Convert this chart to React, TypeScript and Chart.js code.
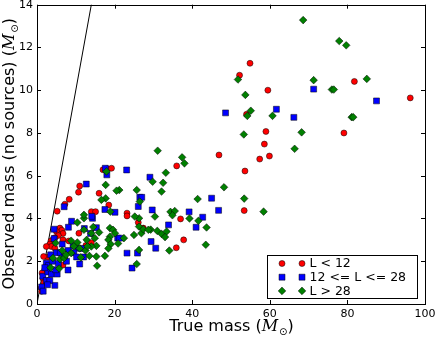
import React, { useEffect, useRef } from 'react';
import { Chart, registerables } from 'chart.js';
Chart.register(...registerables);

const redPoints: number[][] = [
  [52.2,10.7],[54.9,11.26],[59.5,10.0],[81.8,10.41],[96.2,9.64],[54.0,8.87],[59.0,8.07],[79.1,8.0],[58.6,7.48],[59.9,6.92],[57.4,6.78],[46.9,6.97],[53.6,6.22],[53.4,4.37],[36.0,6.46],[37.0,3.98],[37.8,3.0],[35.9,2.63],[17.0,6.28],[18.1,6.33],[19.2,6.35],[16.0,5.18],[18.5,4.63],[14.0,4.32],[15.1,4.32],[23.2,4.25],[23.2,4.12],[26.1,3.81],[27.4,3.55],[14.0,2.87],[12.6,2.74],[10.8,3.31],[11.0,5.52],[10.7,5.23],[8.3,4.9],[7.2,4.67],[5.2,4.34],[5.9,3.55],[6.4,3.45],[5.0,3.39],[6.7,3.3],[5.5,3.2],[4.6,3.1],[4.1,3.0],[3.6,2.95],[6.7,3.0],[3.3,2.8],[3.7,2.69],[4.6,2.61],[2.4,2.69],[8.2,2.95],[2.8,2.2],[1.7,2.22],[6.7,1.83],[2.0,1.6],[1.3,1.45],[1.5,1.21],[1.8,1.0],[1.1,0.75],[1.2,0.6],
];
const bluePoints: number[][] = [
  [71.3,10.05],[87.5,9.5],[48.6,8.94],[61.7,9.11],[66.2,8.73],[45.0,4.95],[46.8,4.38],[42.7,4.06],[41.0,3.59],[39.2,4.31],[33.9,3.7],[23.1,6.27],[29.1,5.93],[29.7,4.4],[29.4,2.92],[30.6,2.61],[26.5,4.99],[27.0,4.99],[26.1,4.56],[23.2,2.38],[25.9,2.38],[24.5,1.68],[20.1,4.29],[20.8,3.08],[21.3,3.08],[17.6,6.35],[18.0,6.04],[17.5,4.42],[12.7,5.61],[14.3,4.01],[14.1,4.1],[15.3,3.57],[12.2,3.53],[13.8,3.3],[7.0,4.55],[8.1,3.59],[8.9,3.87],[4.4,3.5],[4.4,3.06],[4.6,0.87],[11.0,1.87],[8.0,1.59],[9.3,2.72],[10.6,2.61],[11.5,2.6],[2.4,1.91],[1.5,1.3],[2.8,1.5],[2.4,1.1],[3.3,1.1],[3.7,1.4],[5.2,1.4],[3.0,1.8],[4.0,2.0],[5.0,2.4],[6.0,2.4],[7.0,2.2],[8.0,2.5],[9.5,2.4],[10.2,2.2],[12.0,2.2],[3.5,2.3],[6.5,2.8],[7.6,2.0],[2.0,1.7],[1.2,0.8],[1.6,0.6],[5.5,1.9],[4.8,1.6],[2.7,0.9],
];
const greenPoints: number[][] = [
  [68.6,13.28],[77.9,12.3],[79.7,12.1],[85.0,10.53],[71.3,10.47],[51.8,10.5],[76.0,10.03],[76.5,10.03],[53.7,9.78],[55.1,9.04],[54.2,8.8],[60.7,8.8],[81.1,8.74],[81.5,8.74],[53.3,7.93],[68.2,8.03],[66.4,7.26],[53.4,4.93],[58.4,4.32],[48.2,5.46],[43.5,2.77],[43.7,3.58],[41.4,4.91],[41.6,3.89],[39.3,4.0],[37.4,6.86],[38.0,6.58],[31.1,7.17],[33.2,6.14],[32.5,5.67],[29.8,5.72],[32.1,5.26],[30.4,4.09],[34.4,4.31],[35.5,4.35],[34.9,4.15],[29.3,3.48],[31.0,3.42],[32.1,3.28],[33.4,3.39],[33.0,3.13],[34.1,2.5],[25.7,5.33],[26.5,4.79],[26.3,4.01],[25.2,4.09],[25.0,3.23],[26.3,3.62],[26.9,3.31],[27.4,3.5],[28.7,3.47],[26.3,2.53],[25.7,1.87],[21.2,5.33],[20.5,5.3],[22.4,3.08],[20.9,2.83],[18.8,3.55],[19.6,3.47],[20.1,3.31],[18.8,3.15],[18.4,3.0],[19.0,2.8],[18.4,2.6],[17.7,5.57],[17.7,4.94],[16.6,4.87],[18.9,4.32],[17.9,6.2],[17.5,2.25],[15.5,1.79],[15.3,2.22],[15.3,2.72],[14.9,3.08],[14.0,3.31],[14.0,2.69],[12.1,3.47],[12.1,4.01],[12.1,4.17],[10.4,3.81],[11.3,2.18],[12.5,2.5],[13.5,2.25],[10.4,2.88],[8.8,2.38],[5.9,2.1],[5.7,1.66],[7.0,2.15],[7.5,2.3],[4.8,2.85],[4.1,2.15],[8.8,2.96],[9.5,2.7],[11.0,2.6],[13.0,2.7],[6.5,2.5],[3.5,1.7],[12.8,3.0],[16.0,3.35],[14.5,3.6],
];
const identityLine: number[][] = [[0, 0], [100, 100]];
const xTickValues = [0, 20, 40, 60, 80, 100];
const yTickValues = [0, 2, 4, 6, 8, 10, 12, 14];
const seriesLabels = ['L < 12', '12 <= L <= 28', 'L > 28'];
const xTitleText = 'True mass';
const yTitleText = 'Observed mass (no sources)';

const RED = '#ff0000';
const BLUE = '#0000ff';
const GREEN = '#008000';
const FONT = '"DejaVu Sans", sans-serif';

function toXY(arr: number[][]) {
  return arr.map(([x, y]) => ({ x, y }));
}

function drawMarker(ctx: CanvasRenderingContext2D, kind: string, x: number, y: number, color: string) {
  ctx.save();
  ctx.fillStyle = color;
  ctx.strokeStyle = '#000';
  ctx.lineWidth = 0.5;
  ctx.beginPath();
  if (kind === 'circle') {
    ctx.arc(x, y, 3, 0, Math.PI * 2);
  } else if (kind === 'rect') {
    const s = 3;
    ctx.rect(x - s, y - s, 2 * s, 2 * s);
  } else {
    const r = 3.8;
    ctx.moveTo(x, y - r);
    ctx.lineTo(x + r, y);
    ctx.lineTo(x, y + r);
    ctx.lineTo(x - r, y);
    ctx.closePath();
  }
  ctx.fill();
  ctx.stroke();
  ctx.restore();
}

function drawMathTitle(ctx: CanvasRenderingContext2D, prefix: string) {
  const pieces = [
    { t: prefix + ' (', f: `16px ${FONT}`, dy: 0 },
    { t: 'M', f: 'italic 16px "DejaVu Serif", serif', dy: 0 },
    { t: '\u2299', f: `10px ${FONT}`, dy: 4 },
    { t: ')', f: `16px ${FONT}`, dy: 0 },
  ];
  let total = 0;
  const widths = pieces.map((p) => {
    ctx.font = p.f;
    const w = ctx.measureText(p.t).width;
    total += w;
    return w;
  });
  let x = -total / 2;
  ctx.fillStyle = '#000';
  ctx.textBaseline = 'alphabetic';
  ctx.textAlign = 'left';
  pieces.forEach((p, i) => {
    ctx.font = p.f;
    ctx.fillText(p.t, x, p.dy);
    x += widths[i] + (i === 1 ? 1 : 0);
  });
}

const decorPlugin = {
  id: 'decor',
  afterDraw(chart: any) {
    const ctx: CanvasRenderingContext2D = chart.ctx;
    const { left, right, top, bottom } = chart.chartArea;
    const xs = chart.scales.x;
    const ys = chart.scales.y;
    ctx.save();
    // frame
    ctx.strokeStyle = '#000';
    ctx.lineWidth = 1;
    ctx.strokeRect(Math.round(left) + 0.5, Math.round(top) + 0.5, Math.round(right - left), Math.round(bottom - top));
    // inward ticks
    ctx.beginPath();
    xTickValues.forEach((v) => {
      const px = Math.round(xs.getPixelForValue(v)) + 0.5;
      ctx.moveTo(px, bottom);
      ctx.lineTo(px, bottom - 4);
      ctx.moveTo(px, top);
      ctx.lineTo(px, top + 4);
    });
    yTickValues.forEach((v) => {
      const py = Math.round(ys.getPixelForValue(v)) + 0.5;
      ctx.moveTo(left, py);
      ctx.lineTo(left + 4, py);
      ctx.moveTo(right, py);
      ctx.lineTo(right - 4, py);
    });
    ctx.stroke();
    ctx.restore();

    // axis titles
    ctx.save();
    ctx.translate((left + right) / 2, 331);
    drawMathTitle(ctx, xTitleText);
    ctx.restore();
    ctx.save();
    ctx.translate(14, (top + bottom) / 2);
    ctx.rotate(-Math.PI / 2);
    drawMathTitle(ctx, yTitleText);
    ctx.restore();

    // legend
    const bx = 267, by = 255, bw = 150, bh = 43;
    ctx.save();
    ctx.fillStyle = '#fff';
    ctx.fillRect(bx, by, bw, bh);
    ctx.strokeStyle = '#000';
    ctx.lineWidth = 1;
    ctx.strokeRect(bx + 0.5, by + 0.5, bw, bh);
    const kinds = ['circle', 'rect', 'rectRot'];
    const colors = [RED, BLUE, GREEN];
    ctx.font = `12.5px ${FONT}`;
    ctx.textBaseline = 'middle';
    ctx.textAlign = 'left';
    seriesLabels.forEach((lab, i) => {
      const yy = by + 8.5 + i * 13.7;
      drawMarker(ctx, kinds[i], 282, yy, colors[i]);
      drawMarker(ctx, kinds[i], 302, yy, colors[i]);
      ctx.fillStyle = '#000';
      ctx.fillText(lab, 309.5, yy + 0.5);
    });
    ctx.restore();
  },
};

export default function App() {
  const ref = useRef<HTMLCanvasElement | null>(null);
  useEffect(() => {
    if (!ref.current) return;
    Chart.defaults.font.family = FONT;
    const chart = new Chart(ref.current, {
      type: 'scatter',
      data: {
        datasets: [
          {
            type: 'line',
            label: 'identity',
            data: toXY(identityLine),
            borderColor: '#000',
            borderWidth: 1,
            pointRadius: 0,
            order: 10,
          } as any,
          {
            label: seriesLabels[0],
            data: toXY(redPoints),
            pointStyle: 'circle',
            pointRadius: 3,
            backgroundColor: RED,
            borderColor: '#000',
            borderWidth: 0.5,
            order: 3,
          },
          {
            label: seriesLabels[1],
            data: toXY(bluePoints),
            pointStyle: 'rect',
            pointRadius: 4.2,
            backgroundColor: BLUE,
            borderColor: '#000',
            borderWidth: 0.5,
            order: 2,
          },
          {
            label: seriesLabels[2],
            data: toXY(greenPoints),
            pointStyle: 'rectRot',
            pointRadius: 3.8,
            backgroundColor: GREEN,
            borderColor: '#000',
            borderWidth: 0.5,
            order: 1,
          },
        ],
      },
      options: {
        animation: false,
        responsive: false,
        devicePixelRatio: 1,
        layout: { padding: { left: 0, top: 4, right: 11, bottom: 0 } },
        plugins: { legend: { display: false }, tooltip: { enabled: false } },
        scales: {
          x: {
            type: 'linear',
            min: 0,
            max: 100,
            afterFit: (s: any) => { s.height = 34; s.paddingLeft = 0; s.paddingRight = 0; },
            afterBuildTicks: (s: any) => { s.ticks = xTickValues.map((v) => ({ value: v })); },
            grid: { display: false, drawTicks: false },
            border: { display: false },
            ticks: { color: '#000', font: { size: 11, family: FONT }, padding: 4, maxRotation: 0 },
          },
          y: {
            type: 'linear',
            min: 0,
            max: 14,
            afterFit: (s: any) => { s.width = 37; s.paddingTop = 0; s.paddingBottom = 0; },
            afterBuildTicks: (s: any) => { s.ticks = yTickValues.map((v) => ({ value: v })); },
            grid: { display: false, drawTicks: false },
            border: { display: false },
            ticks: { color: '#000', font: { size: 11, family: FONT }, padding: 4 },
          },
        },
      },
      plugins: [decorPlugin],
    });
    return () => chart.destroy();
  }, []);
  return (
    <div style={{ position: 'absolute', left: 0, top: 0, width: 436, height: 338, background: '#fff' }}>
      <canvas ref={ref} width={436} height={338} />
    </div>
  );
}
